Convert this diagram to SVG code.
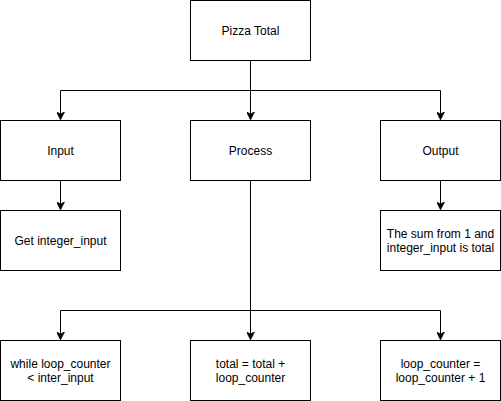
<svg xmlns="http://www.w3.org/2000/svg" width="501" height="401" viewBox="0 0 501 401">
<style>
.box rect{fill:#fff;stroke:#000;stroke-width:1}
.box text{font-family:"Liberation Sans",Arial,sans-serif;font-size:12px;fill:#000;text-anchor:middle}
.conn path{fill:none;stroke:#000;stroke-width:1}
</style>
<defs>
<marker id="arr" viewBox="0 0 10 10" refX="9" refY="5" markerWidth="8" markerHeight="8" markerUnits="userSpaceOnUse" orient="auto">
<path d="M0,0 L10,5 L0,10 L3,5 Z" fill="#000" stroke="#000" stroke-width="1"/>
</marker>
</defs>
<rect width="501" height="401" fill="#fff"/>
<g class="conn">
<path d="M250.5,60.5 V90.5 H60.5 V119" marker-end="url(#arr)"/>
<path d="M250.5,60.5 V119" marker-end="url(#arr)"/>
<path d="M250.5,90.5 H440.5 V119" marker-end="url(#arr)"/>
<path d="M60.5,180.5 V209" marker-end="url(#arr)"/>
<path d="M440.5,180.5 V209" marker-end="url(#arr)"/>
<path d="M250.5,180.5 V310.5 H60.5 V339" marker-end="url(#arr)"/>
<path d="M250.5,310.5 V339" marker-end="url(#arr)"/>
<path d="M250.5,310.5 H440.5 V339" marker-end="url(#arr)"/>
</g>
<g id="pizza-total" class="box"><rect x="190.5" y="0.5" width="120" height="60"/><text x="250.5" y="34.5">Pizza Total</text></g>
<g id="input" class="box"><rect x="0.5" y="120.5" width="120" height="60"/><text x="60.5" y="154.5">Input</text></g>
<g id="process" class="box"><rect x="190.5" y="120.5" width="120" height="60"/><text x="250.5" y="154.5">Process</text></g>
<g id="output" class="box"><rect x="380.5" y="120.5" width="120" height="60"/><text x="440.5" y="154.5">Output</text></g>
<g id="get-input" class="box"><rect x="0.5" y="210.5" width="120" height="60"/><text x="60.5" y="244.5">Get integer_input</text></g>
<g id="sum-output" class="box"><rect x="380.5" y="210.5" width="120" height="60"/><text x="440.5" y="237.5">The sum from 1 and</text><text x="440.5" y="252">integer_input is total</text></g>
<g id="while-loop" class="box"><rect x="0.5" y="340.5" width="120" height="60"/><text x="60.5" y="367.5">while loop_counter</text><text x="60.5" y="382">&lt; inter_input</text></g>
<g id="total-add" class="box"><rect x="190.5" y="340.5" width="120" height="60"/><text x="250.5" y="367.5">total = total +</text><text x="250.5" y="382">loop_counter</text></g>
<g id="counter-inc" class="box"><rect x="380.5" y="340.5" width="120" height="60"/><text x="440.5" y="367.5">loop_counter =</text><text x="440.5" y="382">loop_counter + 1</text></g>
</svg>
